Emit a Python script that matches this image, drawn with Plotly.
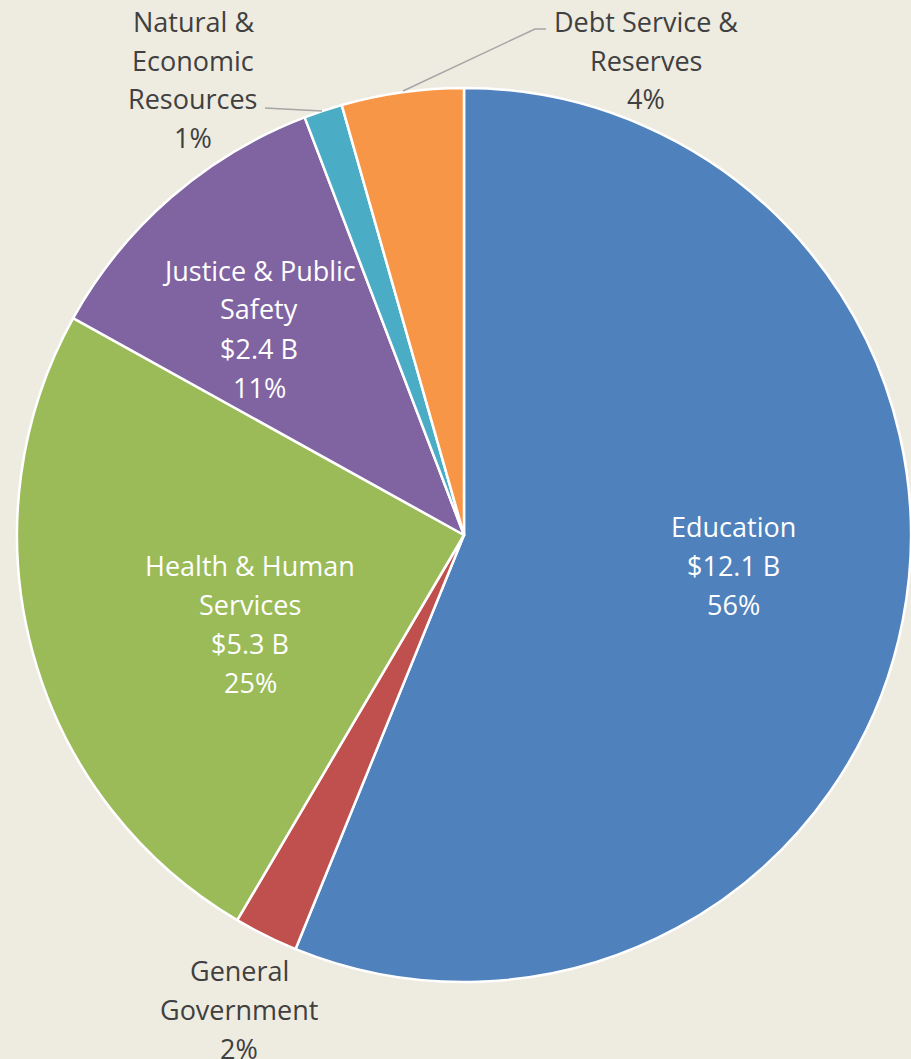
import plotly.graph_objects as go

W, H = 911, 1059

categories = ["Education", "General Government", "Health & Human Services",
              "Justice & Public Safety", "Natural & Economic Resources",
              "Debt Service & Reserves"]
values_b = [12.1, 0.5, 5.3, 2.4, 0.3, 0.95]   # billions
pct_labels = ["56%", "2%", "25%", "11%", "1%", "4%"]
colors = ["#4F81BD", "#C0504D", "#9BBB59", "#8064A2", "#4BACC6", "#F79646"]

# label text split into lines as drawn on the chart
label_lines = [
    ["Education", "$12.1 B", "56%"],
    ["General", "Government", "2%"],
    ["Health & Human", "Services", "$5.3 B", "25%"],
    ["Justice & Public", "Safety", "$2.4 B", "11%"],
    ["Natural &", "Economic", "Resources", "1%"],
    ["Debt Service &", "Reserves", "4%"],
]
inside = [True, False, True, True, False, False]
# label centre in pixels (x, first line y)
label_pos = [(733, 526), (239, 970), (250, 565), (259, 270), (193, 21), (646, 21)]
LINE_H = 39

fig = go.Figure(go.Pie(
    labels=categories,
    values=values_b,
    marker=dict(colors=colors, line=dict(color="white", width=2.5)),
    sort=False,
    direction="clockwise",
    rotation=0,
    textinfo="none",
    hoverinfo="label+value+percent",
    domain=dict(x=[17 / W, 1.0], y=[1 - 983 / H, 1 - 87 / H]),
    showlegend=False,
))

annotations = []
for lines, ins, (px_, py_) in zip(label_lines, inside, label_pos):
    for i, line in enumerate(lines):
        annotations.append(dict(
            x=px_ / W, y=1 - (py_ + i * LINE_H) / H,
            xref="paper", yref="paper",
            text=line, showarrow=False,
            xanchor="center", yanchor="middle",
            font=dict(family="Open Sans", size=27,
                      color="white" if ins else "#404040"),
        ))

def to_paper(pts):
    return " L".join(f"{x / W},{1 - y / H}" for x, y in pts)

shapes = [
    dict(type="path", xref="paper", yref="paper",
         path="M" + to_paper([(265, 108), (322, 111)]),
         line=dict(color="#A6A6A6", width=1.5)),
    dict(type="path", xref="paper", yref="paper",
         path="M" + to_paper([(403, 91), (535, 29), (546, 29)]),
         line=dict(color="#A6A6A6", width=1.5)),
]

fig.update_layout(
    width=W, height=H,
    margin=dict(l=0, r=0, t=0, b=0),
    paper_bgcolor="#EEEBE1",
    plot_bgcolor="#EEEBE1",
    annotations=annotations,
    shapes=shapes,
)

fig.write_html("out.html", config={"displayModeBar": False},
               post_script="document.body.style.margin='0';")
